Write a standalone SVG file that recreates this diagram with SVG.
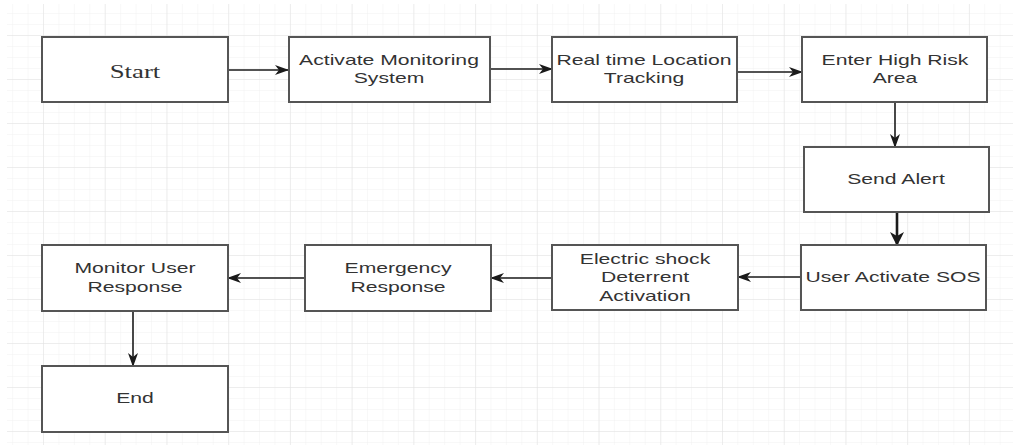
<svg xmlns="http://www.w3.org/2000/svg" width="1013" height="445" viewBox="0 0 1013 445">
  <defs>
    <!-- background grid: minor cells 15.43 x 11, major every 4 -->
    <pattern id="minor" patternUnits="userSpaceOnUse" x="12.14" y="2" width="15.43" height="11">
      <path d="M0,0 V11 M0,0 H15.43" fill="none" stroke="#f1f1f1" stroke-width="1"/>
    </pattern>
    <pattern id="major" patternUnits="userSpaceOnUse" x="43" y="35" width="61.73" height="44">
      <path d="M0,0 V44 M0,0 H61.73" fill="none" stroke="#e2e2e2" stroke-width="1"/>
    </pattern>
    <marker id="head" markerUnits="userSpaceOnUse" viewBox="0 0 14 10" refX="13" refY="5" markerWidth="14" markerHeight="10" orient="auto">
      <path d="M0,0 L14,5 L0,10 L4,5 Z" fill="#1a1a1a"/>
    </marker>
    <marker id="headBig" markerUnits="userSpaceOnUse" viewBox="0 0 14 14" refX="13" refY="7" markerWidth="14" markerHeight="14" orient="auto">
      <path d="M0,0 L14,7 L0,14 L4,7 Z" fill="#1a1a1a"/>
    </marker>
  </defs>
  <style>
    .box { fill: #ffffff; stroke: #555555; stroke-width: 2; }
    .lbl { font-family: "Liberation Sans", Arial, sans-serif; font-size: 15px; fill: #333333; text-anchor: middle; }
    .serif { font-family: "Liberation Serif", "Times New Roman", serif; font-size: 19px; fill: #333333; text-anchor: middle; }
    .edge { fill: none; stroke: #1a1a1a; stroke-width: 1.6; marker-end: url(#head); }
    .edge.thick { stroke-width: 2.6; marker-end: url(#headBig); }
  </style>

  <rect width="1013" height="445" fill="#ffffff"/>
  <rect x="7" y="4" width="1006" height="441" fill="url(#minor)"/>
  <rect x="7" y="4" width="1006" height="441" fill="url(#major)"/>

  <g id="connectors">
    <path class="edge" d="M228,70 L288,70"/>
    <path class="edge" d="M490,69 L552,69"/>
    <path class="edge" d="M737,72 L802,72"/>
    <path class="edge" d="M895,102 L895,147"/>
    <path class="edge thick" d="M897,212 L897,245"/>
    <path class="edge" d="M801,277 L738,277"/>
    <path class="edge" d="M552,278 L491,278"/>
    <path class="edge" d="M305,278 L228,278"/>
    <path class="edge" d="M133,311 L133,366"/>
  </g>

  <g id="start">
    <rect class="box" x="42" y="37" width="186" height="65"/>
    <text class="serif" transform="translate(135,0) scale(1.41,1)" x="0" y="78">Start</text>
  </g>
  <g id="activate-monitoring">
    <rect class="box" x="289" y="37" width="201" height="65"/>
    <text class="lbl" transform="translate(389,0) scale(1.41,1)" x="0" y="65">Activate Monitoring</text>
    <text class="lbl" transform="translate(389,0) scale(1.41,1)" x="0" y="83">System</text>
  </g>
  <g id="location-tracking">
    <rect class="box" x="552" y="37" width="185" height="65"/>
    <text class="lbl" transform="translate(644,0) scale(1.41,1)" x="0" y="65">Real time Location</text>
    <text class="lbl" transform="translate(644,0) scale(1.41,1)" x="0" y="83">Tracking</text>
  </g>
  <g id="high-risk-area">
    <rect class="box" x="802" y="37" width="185" height="65"/>
    <text class="lbl" transform="translate(895,0) scale(1.41,1)" x="0" y="65">Enter High Risk</text>
    <text class="lbl" transform="translate(895,0) scale(1.41,1)" x="0" y="83">Area</text>
  </g>
  <g id="send-alert">
    <rect class="box" x="804" y="147" width="185" height="65"/>
    <text class="lbl" transform="translate(896,0) scale(1.41,1)" x="0" y="184">Send Alert</text>
  </g>
  <g id="user-sos">
    <rect class="box" x="801" y="245" width="185" height="65"/>
    <text class="lbl" transform="translate(893,0) scale(1.41,1)" x="0" y="282">User Activate SOS</text>
  </g>
  <g id="shock-deterrent">
    <rect class="box" x="552" y="245" width="186" height="65"/>
    <text class="lbl" transform="translate(645,0) scale(1.41,1)" x="0" y="264">Electric shock</text>
    <text class="lbl" transform="translate(645,0) scale(1.41,1)" x="0" y="282">Deterrent</text>
    <text class="lbl" transform="translate(645,0) scale(1.41,1)" x="0" y="301">Activation</text>
  </g>
  <g id="emergency-response">
    <rect class="box" x="305" y="245" width="186" height="66"/>
    <text class="lbl" transform="translate(398,0) scale(1.41,1)" x="0" y="273">Emergency</text>
    <text class="lbl" transform="translate(398,0) scale(1.41,1)" x="0" y="292">Response</text>
  </g>
  <g id="monitor-response">
    <rect class="box" x="42" y="245" width="186" height="66"/>
    <text class="lbl" transform="translate(135,0) scale(1.41,1)" x="0" y="273">Monitor User</text>
    <text class="lbl" transform="translate(135,0) scale(1.41,1)" x="0" y="292">Response</text>
  </g>
  <g id="end">
    <rect class="box" x="42" y="366" width="186" height="66"/>
    <text class="lbl" transform="translate(135,0) scale(1.41,1)" x="0" y="403">End</text>
  </g>
</svg>
